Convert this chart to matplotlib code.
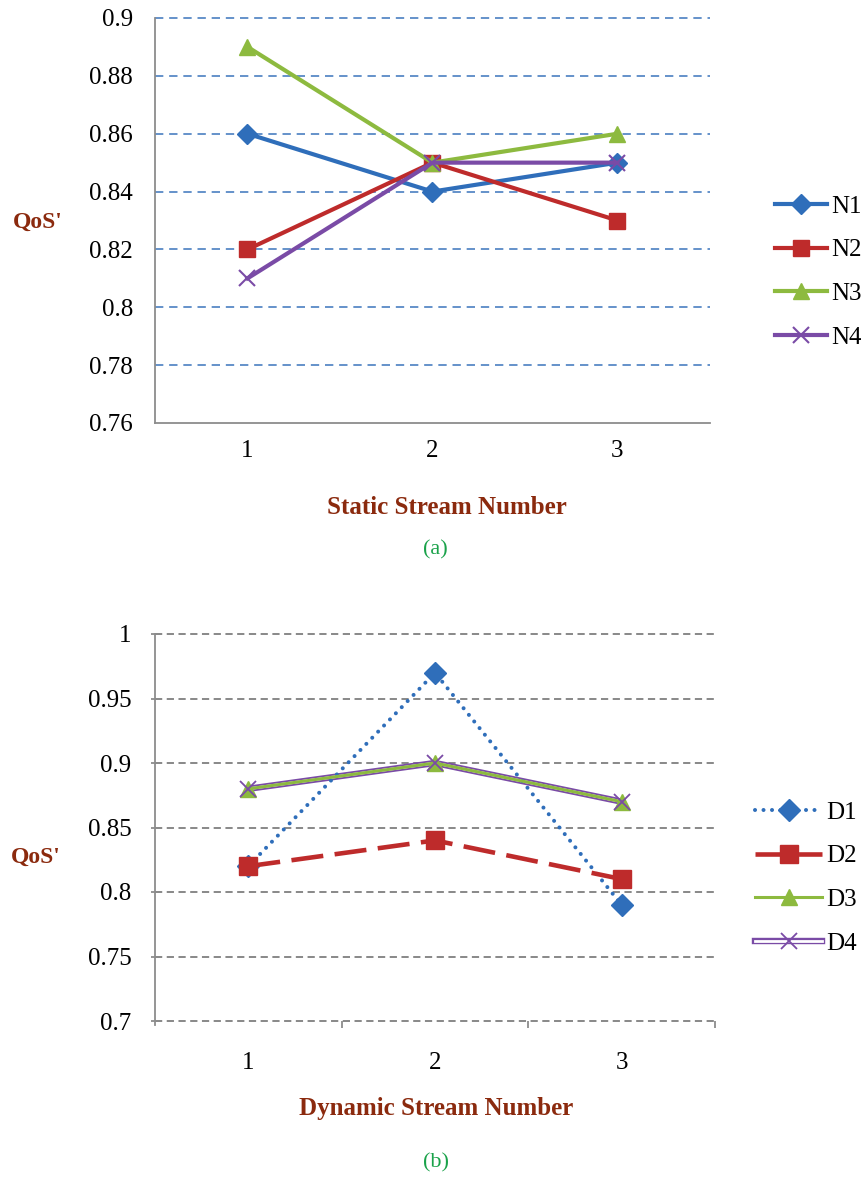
import matplotlib
matplotlib.use("Agg")
import matplotlib.pyplot as plt
import matplotlib.patheffects as pe

plt.rcParams['font.family'] = ['Liberation Serif', 'DejaVu Serif']

# data
streams = [1, 2, 3]

static_labels = ["N1", "N2", "N3", "N4"]
n1 = [0.86, 0.84, 0.85]
n2 = [0.82, 0.85, 0.83]
n3 = [0.89, 0.85, 0.86]
n4 = [0.81, 0.85, 0.85]
static_yticks = [0.76, 0.78, 0.80, 0.82, 0.84, 0.86, 0.88, 0.90]

dynamic_labels = ["D1", "D2", "D3", "D4"]
d1 = [0.82, 0.97, 0.79]
d2 = [0.82, 0.84, 0.81]
d3 = [0.88, 0.90, 0.87]
d4 = [0.88, 0.90, 0.87]
dynamic_yticks = [0.70, 0.75, 0.80, 0.85, 0.90, 0.95, 1.00]

BLUE = "#2F6EBA"
RED = "#BE2B2B"
GREEN = "#8DBA3F"
PURPLE = "#7A4BA6"
DARKRED = "#8B2A0E"
CAPGREEN = "#1AA24A"
AXGRAY = "#8C8C8C"

W, H = 862, 1180
fig = plt.figure(figsize=(W / 100, H / 100), dpi=100)


def fx(px):
    return px / W


def fy(py):
    return 1 - py / H


def tick_fmt(v):
    return ("%.2f" % v).rstrip("0").rstrip(".")


# ---------- (a) static ----------
ax1 = fig.add_axes([fx(155), fy(423), fx(710) - fx(155), fy(18) - fy(423)])
ax1.set_xlim(0.5, 3.5)
ax1.set_ylim(0.76, 0.90)
ax1.set_yticks(static_yticks)
ax1.set_yticklabels([tick_fmt(v) for v in static_yticks])
ax1.set_xticks(streams)
ax1.tick_params(axis='y', length=0, pad=16, labelsize=18)
ax1.tick_params(axis='x', length=0, pad=12, labelsize=18)
for s in ['top', 'right']:
    ax1.spines[s].set_visible(False)
for s in ['left', 'bottom']:
    ax1.spines[s].set_color(AXGRAY)
    ax1.spines[s].set_linewidth(1.3)
for v in static_yticks[1:]:
    ax1.axhline(v, color="#4A7FC1", lw=1.2, ls=(0, (5, 3.5)), zorder=1, clip_on=False)

ax1.plot(streams, n1, color=BLUE, lw=3, marker='D', ms=10, label="N1", zorder=3)
ax1.plot(streams, n2, color=RED, lw=3, marker='s', ms=12, label="N2", zorder=3)
ax1.plot(streams, n3, color=GREEN, lw=3, marker='^', ms=12, label="N3", zorder=3)
ax1.plot(streams, n4, color=PURPLE, lw=3, marker='x', ms=12, mew=1.5, label="N4", zorder=3)

fig.legend(*ax1.get_legend_handles_labels(), loc='center left',
           bbox_to_anchor=(fx(775), fy(272)), frameon=False, fontsize=18,
           handlelength=2.1, handletextpad=0.15, labelspacing=0.85,
           borderpad=0, borderaxespad=0)

fig.text(fx(38), fy(222), "QoS'", color=DARKRED, fontsize=17, fontweight='bold',
         ha='center', va='center')
fig.text(fx(447), fy(507), "Static Stream Number", color=DARKRED, fontsize=18,
         fontweight='bold', ha='center', va='center')
fig.text(fx(435), fy(550), "(a)", color=CAPGREEN, fontsize=16, ha='center', va='center')

# ---------- (b) dynamic ----------
ax2 = fig.add_axes([fx(155), fy(1021), fx(715) - fx(155), fy(634) - fy(1021)])
ax2.set_xlim(0.5, 3.5)
ax2.set_ylim(0.70, 1.00)
ax2.set_yticks(dynamic_yticks)
ax2.set_yticklabels([tick_fmt(v) for v in dynamic_yticks])
ax2.set_xticks(streams)
ax2.set_xticks([1.5, 2.5, 3.5], minor=True)
ax2.tick_params(axis='y', length=6, direction='inout', color=AXGRAY, width=1.3,
                pad=14, labelsize=18)
ax2.tick_params(axis='x', which='major', length=0, pad=22, labelsize=18)
ax2.tick_params(axis='x', which='minor', length=5, direction='out', color=AXGRAY, width=1.3)
for s in ['top', 'right', 'bottom']:
    ax2.spines[s].set_visible(False)
ax2.spines['left'].set_color(AXGRAY)
ax2.spines['left'].set_linewidth(1.3)
ax2.spines['left'].set_bounds(0.697, 1.0)
for v in dynamic_yticks:
    ax2.axhline(v, color="#7F7F7F", lw=1.3, ls=(0, (4, 2.5)), zorder=1, clip_on=False)

h1, = ax2.plot(streams, d1, color=BLUE, lw=2.9, ls=(0, (0.01, 2.1)),
               dash_capstyle='round', marker='D', ms=11, label="D1", zorder=3)
h2, = ax2.plot(streams, d2, color=RED, lw=3.3, ls=(0, (7, 2.5)),
               marker='s', ms=13, label="D2", zorder=3)
h4line, = ax2.plot(streams, d4, color='white', lw=2.0, zorder=2,
                   path_effects=[pe.Stroke(linewidth=4.6, foreground=PURPLE), pe.Normal()])
h3, = ax2.plot(streams, d3, color=GREEN, lw=2.2, marker='^', ms=12, label="D3", zorder=3)
h4mark, = ax2.plot(streams, d4, ls='none', marker='x', ms=12, mew=1.3, color=PURPLE, zorder=4)

fig.legend([h1, h2, h3, (h4line, h4mark)], dynamic_labels, loc='center left',
           bbox_to_anchor=(fx(755), fy(878)), frameon=False, fontsize=18,
           handlelength=2.7, handletextpad=0.15, labelspacing=0.85,
           borderpad=0, borderaxespad=0)

fig.text(fx(36), fy(857), "QoS'", color=DARKRED, fontsize=17, fontweight='bold',
         ha='center', va='center')
fig.text(fx(436), fy(1108), "Dynamic Stream Number", color=DARKRED, fontsize=18,
         fontweight='bold', ha='center', va='center')
fig.text(fx(436), fy(1163), "(b)", color=CAPGREEN, fontsize=16, ha='center', va='center')

fig.savefig("out.png", dpi=100)
